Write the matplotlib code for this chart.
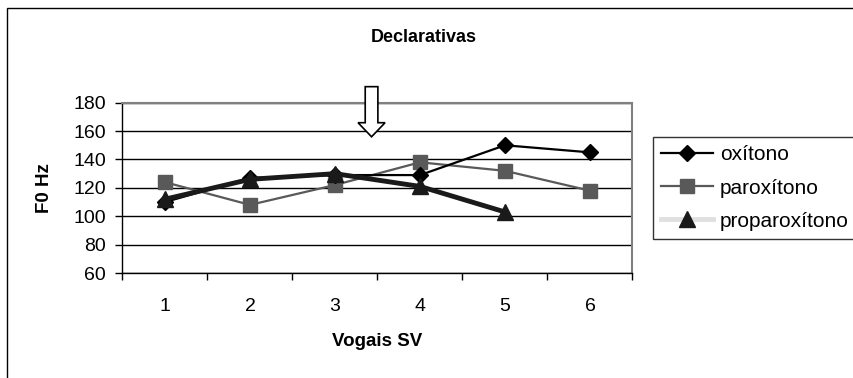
import matplotlib
matplotlib.use('Agg')
import matplotlib.pyplot as plt
from matplotlib.lines import Line2D
from matplotlib.patches import Rectangle, FancyArrow

plt.rcParams['font.family'] = ['Liberation Sans', 'DejaVu Sans']

# data
vogais = [1, 2, 3, 4, 5, 6]
oxitono = [110, 127, 129, 129, 150, 145]
paroxitono = [124, 108, 122, 138, 132, 118]
proparoxitono = [112, 126, 130, 121, 103]
y_ticks = [60, 80, 100, 120, 140, 160, 180]


def main():
    fig = plt.figure(figsize=(8.54, 3.78), dpi=100)
    ax = fig.add_axes([122.5 / 854, 105 / 378, 510 / 854, 170.3 / 378])

    # outer chart frame (right and bottom run off the picture)
    fig.patches.append(Rectangle((7 / 854, -0.2), 1.2, 1 - 8 / 378 + 0.2,
                                 transform=fig.transFigure, fill=False,
                                 edgecolor='black', linewidth=1))

    ax.plot(vogais, oxitono, color='black', lw=1.6, marker='D', ms=8.5,
            label='oxítono', zorder=3)
    ax.plot(vogais, paroxitono, color='#595959', lw=1.6, marker='s', ms=10.5,
            label='paroxítono', zorder=2)
    ax.plot(vogais[:len(proparoxitono)], proparoxitono, color='#1a1a1a', lw=3.5,
            marker='^', ms=11.5, label='proparoxítono', zorder=4)

    ax.set_xlim(0.5, 6.5)
    ax.set_ylim(60, 180)
    ax.set_yticks(y_ticks)
    ax.set_xticks(vogais)
    ax.set_xticks([0.5 + i for i in range(7)], minor=True)
    ax.tick_params(axis='x', which='major', length=0, pad=18, labelsize=14)
    ax.tick_params(axis='x', which='minor', length=5, direction='out', width=1)
    ax.tick_params(axis='y', length=5, direction='out', width=1, labelsize=14, pad=7)
    ax.grid(axis='y', color='black', lw=1)
    ax.set_axisbelow(True)
    for s in ['top', 'right']:
        ax.spines[s].set_color('#808080')
        ax.spines[s].set_linewidth(1.5)
    for s in ['left', 'bottom']:
        ax.spines[s].set_color('black')
        ax.spines[s].set_linewidth(1)

    ax.set_xlabel('Vogais SV', fontsize=13.5, fontweight='bold')
    ax.set_ylabel('F0 Hz', fontsize=13.5, fontweight='bold')
    ax.xaxis.set_label_coords(0.5, -0.352)
    ax.yaxis.set_label_coords(-0.136, 0.5)
    fig.text(424 / 854, 1 - 37 / 378, 'Declarativas', ha='center', va='center',
             fontsize=13, fontweight='bold')

    # hollow arrow pointing down between vowels 3 and 4
    arrow = FancyArrow(3.43, 191.3, 0, -35.3, width=0.149, head_width=0.318,
                       head_length=9.9, length_includes_head=True,
                       facecolor='white', edgecolor='black', lw=1.2,
                       clip_on=False, zorder=5)
    ax.add_patch(arrow)

    handles = [
        Line2D([], [], color='black', lw=1.6, marker='D', ms=8.5),
        Line2D([], [], color='#595959', lw=1.6, marker='s', ms=10.5),
        Line2D([], [], color='#e0e0e0', lw=3.5, marker='^', ms=11.5,
               markerfacecolor='#1a1a1a', markeredgecolor='#1a1a1a'),
    ]
    leg = fig.legend(handles, ['oxítono', 'paroxítono', 'proparoxítono'],
                     loc='upper left', bbox_to_anchor=(653 / 854, 1 - 137 / 378),
                     fontsize=15, frameon=True, fancybox=False,
                     borderpad=0.4, labelspacing=0.68, handlelength=2.5,
                     handletextpad=0.3, borderaxespad=0)
    leg.get_frame().set_edgecolor('black')
    leg.get_frame().set_linewidth(1)

    fig.savefig('out.png', dpi=100)


if __name__ == '__main__':
    main()
